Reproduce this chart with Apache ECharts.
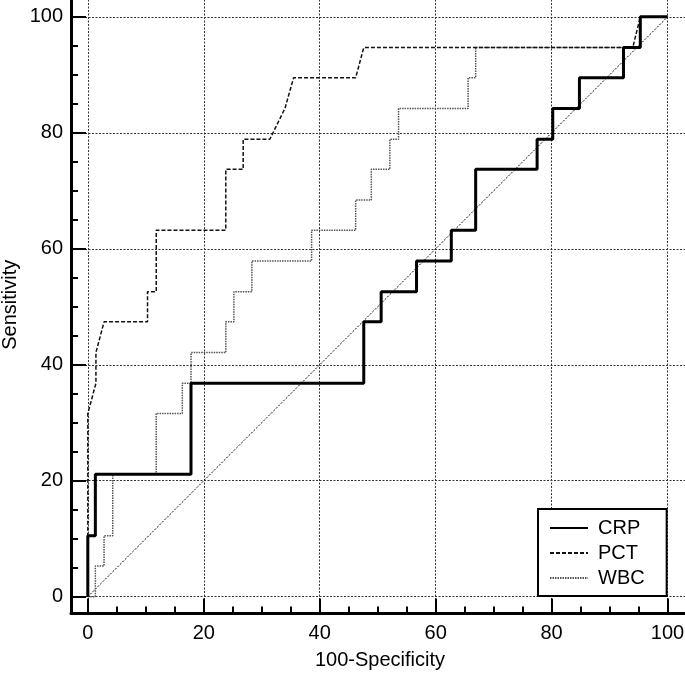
<!DOCTYPE html>
<html>
<head>
<meta charset="utf-8">
<title>ROC curves</title>
<script src="https://cdn.jsdelivr.net/npm/echarts@6/dist/echarts.min.js"></script>
<style>
  html, body { margin: 0; padding: 0; background: #fff; }
  #chart { width: 685px; height: 674px; }
</style>
</head>
<body>
<div id="chart"></div>
<script>
// ROC curves: x = 100-Specificity, y = Sensitivity
const crpX = [0, 0, 1.3, 1.3, 17.8, 17.8, 47.6, 47.6, 50.6, 50.6, 56.7, 56.7, 62.7, 62.7, 66.9, 66.9, 77.5, 77.5, 80.2, 80.2, 84.8, 84.8, 92.4, 92.4, 95.3, 95.3, 100];
const crpY = [0, 10.5, 10.5, 21.1, 21.1, 36.8, 36.8, 47.4, 47.4, 52.6, 52.6, 57.9, 57.9, 63.2, 63.2, 73.7, 73.7, 78.9, 78.9, 84.2, 84.2, 89.5, 89.5, 94.7, 94.7, 100, 100];

const pctX = [0, 0, 1.4, 1.4, 2.8, 10.3, 10.3, 11.8, 11.8, 23.8, 23.8, 26.8, 26.8, 31.4, 34.0, 35.5, 46.2, 47.6, 94.0, 95.3, 100];
const pctY = [0, 31.6, 36.8, 42.1, 47.4, 47.4, 52.6, 52.6, 63.2, 63.2, 73.7, 73.7, 78.9, 78.9, 84.2, 89.5, 89.5, 94.7, 94.7, 100, 100];

const wbcX = [0, 1.3, 1.3, 2.8, 2.8, 4.3, 4.3, 11.8, 11.8, 16.3, 16.3, 17.8, 17.8, 23.8, 23.8, 25.2, 25.2, 28.3, 28.3, 38.6, 38.6, 46.2, 46.2, 48.9, 48.9, 52.1, 52.1, 53.6, 53.6, 65.6, 65.6, 66.9, 66.9, 95.3, 95.3, 100];
const wbcY = [0, 0, 5.3, 5.3, 10.5, 10.5, 21.1, 21.1, 31.6, 31.6, 36.8, 36.8, 42.1, 42.1, 47.4, 47.4, 52.6, 52.6, 57.9, 57.9, 63.2, 63.2, 68.4, 68.4, 73.7, 73.7, 78.9, 78.9, 84.2, 84.2, 89.5, 89.5, 94.7, 94.7, 100, 100];

// chance line
const diagX = [0, 100];
const diagY = [0, 100];

const majorTicks = [0, 20, 40, 60, 80, 100];
const minorTicks = [5, 10, 15, 25, 30, 35, 45, 50, 55, 65, 70, 75, 85, 90, 95];

const toPoints = (xs, ys) => xs.map((x, i) => [x, ys[i]]);

const font = { fontFamily: 'Liberation Sans, Arial, sans-serif', fontSize: 20, color: '#000' };
const gridLine = { show: true, lineStyle: { color: '#333', width: 1, type: [2, 1.5] } };
const noFill = { color: 'rgba(0,0,0,0)' };

function mainAxis(extra) {
  return Object.assign({
    type: 'value',
    min: -2.9,
    splitNumber: 5,
    axisLine: { onZero: false, lineStyle: { color: '#000', width: 3 } },
    axisTick: { inside: true, length: 15, customValues: majorTicks, lineStyle: { color: '#000', width: 2 } },
    axisLabel: Object.assign({ customValues: majorTicks }, font),
    splitLine: gridLine,
    nameLocation: 'middle',
    nameMoveOverlap: false,
    nameTextStyle: font
  }, extra);
}

function minorAxis(extra) {
  return Object.assign({
    type: 'value',
    min: -2.9,
    splitNumber: 5,
    axisLine: { show: false, onZero: false },
    axisTick: { inside: true, length: 7, customValues: minorTicks, lineStyle: { color: '#000', width: 2 } },
    axisLabel: { show: false },
    splitLine: { show: false }
  }, extra);
}

const chart = echarts.init(document.getElementById('chart'));

chart.setOption({
  animation: false,
  backgroundColor: '#fff',
  grid: { left: 71, right: -4, top: -4, bottom: 60.5, outerBoundsMode: 'none', containLabel: false },
  legend: {
    data: ['CRP', 'PCT', 'WBC'],
    orient: 'vertical',
    left: 538,
    top: 509,
    padding: [9, 22, 8, 11],
    itemWidth: 38,
    itemHeight: 20,
    itemGap: 5,
    borderColor: '#000',
    borderWidth: 2,
    backgroundColor: '#fff',
    selectedMode: false,
    itemStyle: { opacity: 0 },
    textStyle: Object.assign({ padding: [0, 0, 0, 5] }, font)
  },
  xAxis: [
    mainAxis({ position: 'bottom', max: 103.7, name: '100-Specificity', nameGap: 37,
      axisLabel: Object.assign({ customValues: majorTicks, margin: 10 }, font) }),
    minorAxis({ position: 'bottom', max: 103.7 })
  ],
  yAxis: [
    mainAxis({ position: 'left', max: 103.6, name: 'Sensitivity', nameGap: 51,
      axisLabel: Object.assign({ customValues: majorTicks, margin: 8 }, font) }),
    minorAxis({ position: 'left', max: 103.6 })
  ],
  series: [
    {
      name: 'diag',
      type: 'line',
      symbol: 'none',
      data: toPoints(diagX, diagY),
      itemStyle: noFill,
      lineStyle: { color: '#111', width: 1, type: [2, 1.5] },
      z: 2
    },
    {
      name: 'WBC',
      type: 'line',
      symbol: 'none',
      data: toPoints(wbcX, wbcY),
      itemStyle: noFill,
      lineStyle: { color: '#555', width: 1.5, type: [1.5, 1] },
      z: 3
    },
    {
      name: 'PCT',
      type: 'line',
      symbol: 'none',
      data: toPoints(pctX, pctY),
      itemStyle: noFill,
      lineStyle: { color: '#111', width: 1.5, type: [4, 2] },
      z: 4
    },
    {
      name: 'CRP',
      type: 'line',
      symbol: 'none',
      data: toPoints(crpX, crpY),
      itemStyle: noFill,
      lineStyle: { color: '#000', width: 3 },
      z: 5
    }
  ]
});
</script>
</body>
</html>
